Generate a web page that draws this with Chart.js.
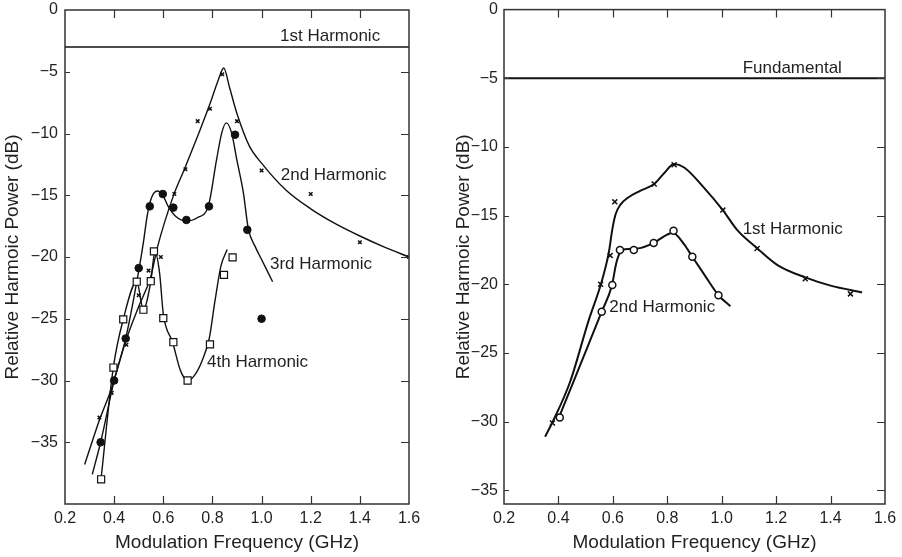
<!DOCTYPE html>
<html>
<head>
<meta charset="utf-8">
<script src="https://cdn.jsdelivr.net/npm/chart.js@4.4.1/dist/chart.umd.min.js"></script>
<style>
  body { margin: 0; background: #fff; }
  .panel { position: absolute; top: 0; width: 451px; height: 557px; }
</style>
</head>
<body>
<div class="panel" style="left:0"><canvas id="left" width="451" height="557"></canvas></div>
<div class="panel" style="left:451px"><canvas id="right" width="451" height="557"></canvas></div>
<script>
// ---- data (GHz, dB) ----

// left panel: measured points
const freqH2L = [0.34, 0.39, 0.45, 0.50, 0.54, 0.59, 0.645, 0.69, 0.74, 0.79, 0.84, 0.90, 1.00, 1.20, 1.40, 1.60];
const powH2L  = [-33, -31, -27.1, -23.1, -21.1, -20, -14.9, -12.9, -9, -8, -5.2, -9, -13, -14.9, -18.8, -20];
const freqH3L = [0.345, 0.40, 0.447, 0.50, 0.545, 0.598, 0.641, 0.694, 0.786, 0.892, 0.942, 1.00];
const powH3L  = [-35, -30, -26.6, -20.9, -15.9, -14.9, -16, -17, -15.9, -10.1, -17.8, -25];
const freqH4L = [0.347, 0.397, 0.437, 0.492, 0.519, 0.549, 0.562, 0.60, 0.641, 0.699, 0.79, 0.847, 0.882];
const powH4L  = [-38, -28.95, -25.05, -22, -24.27, -21.96, -19.54, -24.95, -26.9, -30, -27.07, -21.45, -20.03];

// left panel: fitted curves
const fitFreqH2L = [0.28, 0.342, 0.39, 0.447, 0.50, 0.549, 0.575, 0.641, 0.688, 0.74, 0.79, 0.825, 0.846, 0.87, 0.90, 0.95, 1.00, 1.10, 1.20, 1.30, 1.40, 1.50, 1.60];
const fitPowH2L  = [-36.8, -33.1, -30.6, -26.8, -24.0, -21.6, -19.3, -15.05, -12.8, -10.2, -7.6, -5.6, -4.7, -6.3, -8.4, -11.0, -12.4, -14.6, -16.1, -17.3, -18.3, -19.2, -20];
const fitFreqH3L = [0.311, 0.345, 0.40, 0.447, 0.502, 0.52, 0.535, 0.552, 0.575, 0.598, 0.62, 0.65, 0.695, 0.74, 0.783, 0.817, 0.838, 0.856, 0.878, 0.899, 0.926, 0.946, 0.975, 1.00, 1.045];
const fitPowH3L  = [-37.6, -35, -30, -26.6, -20.9, -18.7, -16.6, -15.2, -14.65, -15.0, -15.9, -16.7, -17.1, -16.8, -15.9, -12.1, -9.95, -9.14, -9.95, -12.1, -14.8, -17.7, -19.2, -20.2, -22];
const fitFreqH4L = [0.345, 0.397, 0.437, 0.492, 0.519, 0.549, 0.566, 0.585, 0.60, 0.638, 0.67, 0.699, 0.73, 0.76, 0.787, 0.81, 0.835, 0.86];
const fitPowH4L  = [-38.3, -28.9, -25.05, -22, -24.25, -22, -19.6, -21.3, -24.6, -26.9, -29.2, -30, -29.5, -28.3, -26.6, -23.6, -20.7, -19.4];

// left panel: 1st harmonic reference level
const refFreqL = [0.2, 1.6];
const refPowL  = [-3, -3];

// right panel: measured points
const freqH1R = [0.378, 0.555, 0.59, 0.607, 0.752, 0.825, 1.004, 1.13, 1.307, 1.473];
const powH1R  = [-30.1, -20, -17.9, -14, -12.7, -11.3, -14.6, -17.4, -19.6, -20.7];
const freqH2R = [0.405, 0.559, 0.598, 0.626, 0.677, 0.75, 0.823, 0.892, 0.988];
const powH2R  = [-29.7, -22, -20.05, -17.5, -17.5, -17, -16.1, -18, -20.8];

// right panel: fitted curves
const fitFreqH1R = [0.351, 0.378, 0.443, 0.51, 0.559, 0.585, 0.598, 0.61, 0.628, 0.655, 0.70, 0.752, 0.789, 0.825, 0.862, 0.936, 1.004, 1.059, 1.13, 1.205, 1.307, 1.40, 1.516];
const fitPowH1R  = [-31.1, -30.05, -27.1, -22.7, -19.8, -17.7, -16.0, -14.9, -14.2, -13.7, -13.2, -12.7, -11.9, -11.25, -11.5, -13.0, -14.6, -16.1, -17.37, -18.6, -19.5, -20.1, -20.6];
const fitFreqH2R = [0.40, 0.455, 0.50, 0.559, 0.597, 0.612, 0.626, 0.645, 0.688, 0.749, 0.798, 0.82, 0.862, 0.892, 0.936, 0.988, 1.032];
const fitPowH2R  = [-29.8, -27.1, -24.9, -22.0, -20.05, -18.5, -17.7, -17.45, -17.4, -17.0, -16.4, -16.25, -17.1, -18.0, -19.3, -20.8, -21.6];

// right panel: fundamental reference level
const refFreqR = [0.2, 1.6];
const refPowR  = [-5, -5];

// axis ticks
const xTicks  = [0.2, 0.4, 0.6, 0.8, 1.0, 1.2, 1.4, 1.6];
const yTicksL = [-40, -35, -30, -25, -20, -15, -10, -5, 0];
const yTicksR = [-35, -30, -25, -20, -15, -10, -5, 0];

// curve labels, in data coordinates
const labelsL = [
  { text: '1st Harmonic', x: 1.075, y: -2.1 },
  { text: '2nd Harmonic', x: 1.078, y: -13.4 },
  { text: '3rd Harmonic', x: 1.034, y: -20.6 },
  { text: '4th Harmonic', x: 0.778, y: -28.5 }
];
const labelsR = [
  { text: 'Fundamental', x: 1.077, y: -4.3 },
  { text: '1st Harmonic', x: 1.077, y: -16.0 },
  { text: '2nd Harmonic', x: 0.587, y: -21.7 }
];

const FONT = '"Liberation Sans", Arial, Helvetica, sans-serif';
const INK = '#231f20';

const pts = (xs, ys) => xs.map((x, i) => ({ x, y: ys[i] }));

// box round the plot with inward tick marks, plus the text labels
const framePlugin = {
  id: 'frame',
  afterDatasetsDraw(chart, args, opts) {
    const { ctx, chartArea: a, scales: { x, y } } = chart;
    ctx.save();
    ctx.strokeStyle = '#333';
    ctx.lineWidth = 1.5;
    ctx.strokeRect(a.left, a.top, a.right - a.left, a.bottom - a.top);
    ctx.lineWidth = 1.2;
    ctx.beginPath();
    x.ticks.forEach(t => {
      if (t.value <= x.min + 1e-6 || t.value >= x.max - 1e-6) return;
      const px = Math.round(x.getPixelForValue(t.value)) + 0.5;
      ctx.moveTo(px, a.top); ctx.lineTo(px, a.top + 8);
      ctx.moveTo(px, a.bottom); ctx.lineTo(px, a.bottom - 8);
    });
    y.ticks.forEach(t => {
      if (t.value <= y.min + 1e-6 || t.value >= y.max - 1e-6) return;
      const py = Math.round(y.getPixelForValue(t.value)) + 0.5;
      ctx.moveTo(a.left, py); ctx.lineTo(a.left + 5, py);
      ctx.moveTo(a.right, py); ctx.lineTo(a.right - 8, py);
    });
    ctx.stroke();

    ctx.fillStyle = INK;
    ctx.font = '17px ' + FONT;
    ctx.textAlign = 'left';
    ctx.textBaseline = 'middle';
    opts.labels.forEach(l => {
      ctx.fillText(l.text, x.getPixelForValue(l.x), y.getPixelForValue(l.y));
    });
    ctx.restore();
  }
};

function fitLine(xs, ys, width) {
  return {
    data: pts(xs, ys), showLine: true, pointRadius: 0,
    borderColor: '#111', borderWidth: width,
    cubicInterpolationMode: 'monotone', order: 2
  };
}

function markers(xs, ys, style, radius, fill, lw) {
  return {
    data: pts(xs, ys), showLine: false, pointStyle: style,
    pointRadius: radius, pointBackgroundColor: fill,
    pointBorderColor: '#111', pointBorderWidth: lw, order: 0
  };
}

// invisible tick marks only set the gap between labels and axis
const hiddenGrid = len => ({
  display: true, drawOnChartArea: false, drawTicks: true,
  tickLength: len, color: 'rgba(0,0,0,0)'
});

function makeChart(id, datasets, yMin, yTicks, yWidth, yGap, pad, labels) {
  return new Chart(document.getElementById(id), {
    type: 'scatter',
    data: { datasets },
    plugins: [framePlugin],
    options: {
      responsive: false,
      animation: false,
      layout: { padding: pad },
      plugins: {
        legend: { display: false },
        tooltip: { enabled: false },
        frame: { labels }
      },
      scales: {
        x: {
          type: 'linear', min: 0.2, max: 1.6,
          afterBuildTicks: s => { s.ticks = xTicks.map(v => ({ value: v })); },
          afterFit: s => { s.height = 53; },
          grid: hiddenGrid(5), border: { display: false },
          ticks: {
            padding: 0, color: INK, font: { family: FONT, size: 16 },
            callback: v => v.toFixed(1)
          },
          title: {
            display: true, text: 'Modulation Frequency (GHz)', color: INK,
            font: { family: FONT, size: 19 }, padding: { top: 0, bottom: 3 }
          }
        },
        y: {
          type: 'linear', min: yMin, max: 0,
          afterBuildTicks: s => { s.ticks = yTicks.map(v => ({ value: v })); },
          afterFit: s => { s.width = yWidth; },
          grid: hiddenGrid(yGap), border: { display: false },
          ticks: {
            padding: 0, color: INK, font: { family: FONT, size: 16 },
            callback: v => v === -40 ? '' : (v === 0 ? '0' : '\u2212' + Math.abs(v))
          },
          title: {
            display: true, text: 'Relative Harmoic Power (dB)', color: INK,
            font: { family: FONT, size: 19 }, padding: { top: 1, bottom: 0 }
          }
        }
      }
    }
  });
}

// left panel
makeChart('left', [
  markers(freqH2L, powH2L, 'crossRot', 2.5, '#111', 1.5),
  markers(freqH3L, powH3L, 'circle', 3.8, '#111', 1),
  markers(freqH4L, powH4L, 'rect', 5, '#fff', 1.2),
  fitLine(fitFreqH2L, fitPowH2L, 1.4),
  fitLine(fitFreqH3L, fitPowH3L, 1.4),
  fitLine(fitFreqH4L, fitPowH4L, 1.4),
  fitLine(refFreqL, refPowL, 1.5)
], -40, yTicksL, 65, 7, { top: 10, right: 42, left: 0, bottom: 0 }, labelsL);

// right panel
makeChart('right', [
  markers(freqH1R, powH1R, 'crossRot', 3.5, '#111', 1.5),
  markers(freqH2R, powH2R, 'circle', 3.5, '#fff', 1.5),
  fitLine(fitFreqH1R, fitPowH1R, 2),
  fitLine(fitFreqH2R, fitPowH2R, 2),
  fitLine(refFreqR, refPowR, 2)
], -36, yTicksR, 53, 6, { top: 9, right: 17, left: 0, bottom: 0 }, labelsR);
</script>
</body>
</html>
